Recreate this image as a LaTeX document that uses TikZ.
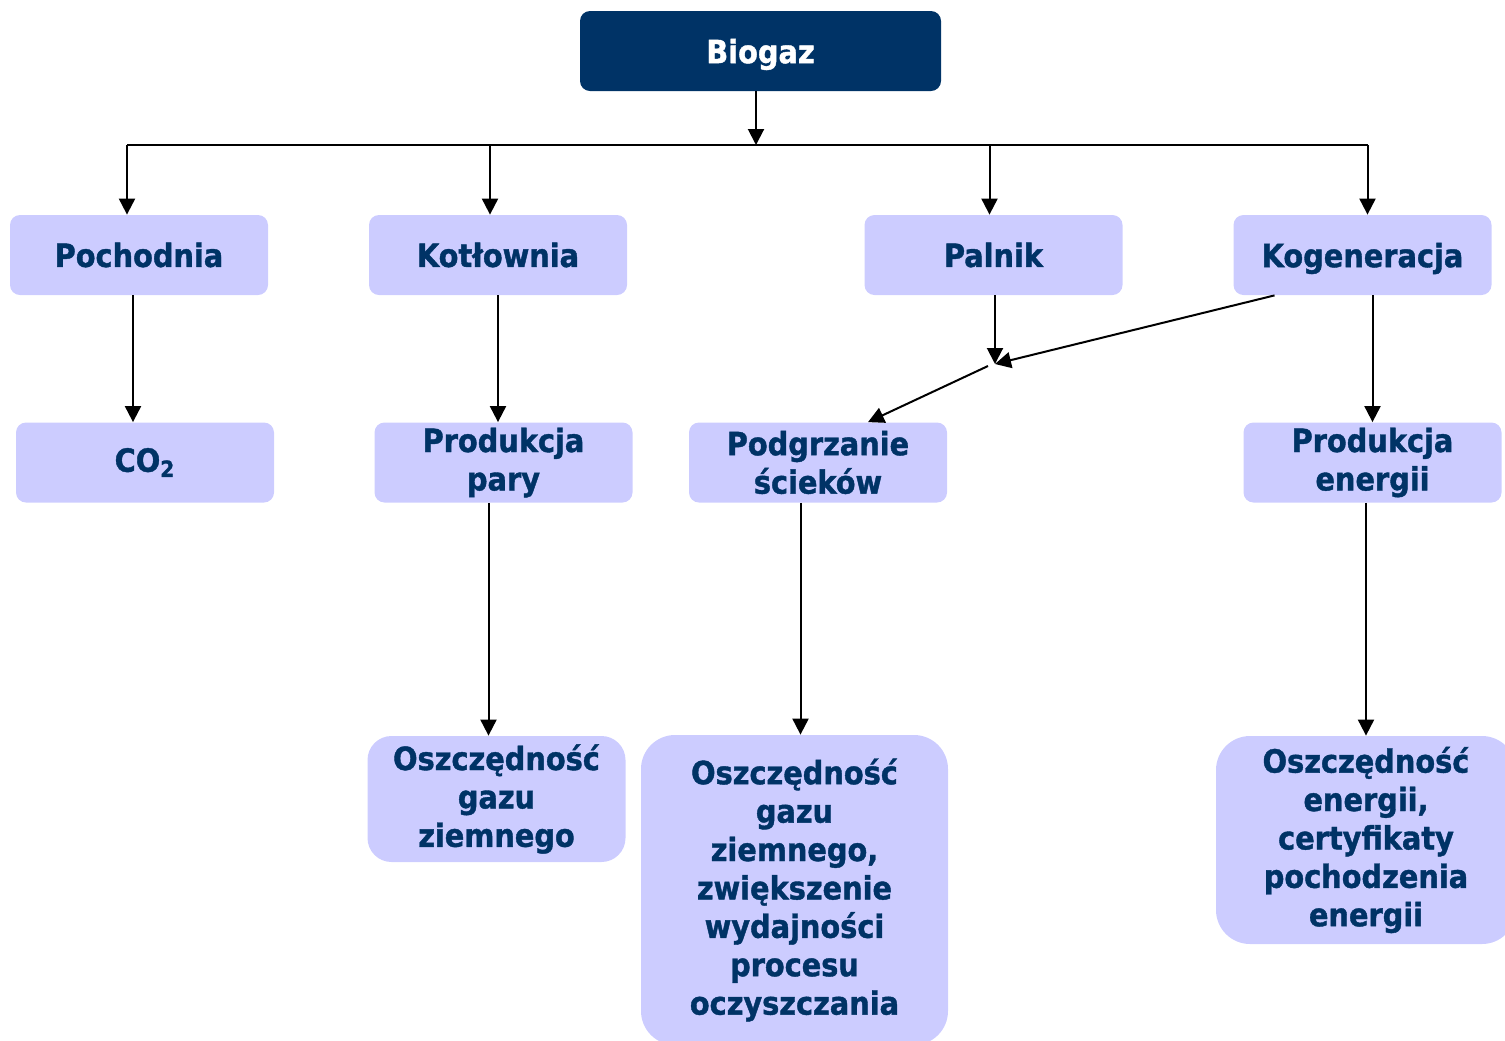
\documentclass[tikz,border=0pt]{standalone}
\usepackage{fontspec}
\setmainfont{DejaVu Sans Condensed}[BoldFeatures={FakeBold=1.2}]
\usetikzlibrary{arrows.meta}
\definecolor{navy}{RGB}{0,51,102}
\definecolor{lav}{RGB}{204,204,255}

\begin{document}
\begin{tikzpicture}[x=0.5pt,y=-0.5pt,
	box/.style={fill=lav,rounded corners=5pt,text=navy,inner sep=0pt,align=center,
		font=\bfseries\fontsize{16}{19.2}\selectfont,minimum width=129pt,minimum height=40pt},
	bigbox/.style={box,rounded corners=17pt},
	arr/.style={line width=1pt,-{Triangle[length=8pt,width=8pt]}}]
	\useasboundingbox (0,0) rectangle (1505,1040);
	\node[box,fill=navy,text=white,minimum width=180.5pt,text depth=0pt] (biogaz) at (760.5,51) {Biogaz};
	\node[box] (pocho) at (139,255) {Pochodnia};
	\node[box] (kotl) at (498,255) {Kotłownia};
	\node[box] (palnik) at (993.5,255) {Palnik};
	\node[box,text depth=0pt] (kogen) at (1362.5,255) {Kogeneracja};
	\node[box] (co2) at (145,462.5) {CO\textsubscript{2}};
	\node[box] (para) at (503.5,462.5) {Produkcja\\pary};
	\node[box] (podg) at (818,462.5) {Podgrzanie\\ścieków};
	\node[box] (energ) at (1372.5,462.5) {Produkcja\\energii};
	\node[bigbox,rounded corners=12pt,minimum height=63pt] (oszc1) at (496.5,799) {Oszczędność\\gazu\\ziemnego};
	\node[bigbox,minimum width=153.5pt,minimum height=155pt] (oszc2) at (794.5,890) {Oszczędność\\gazu\\ziemnego,\\zwiększenie\\wydajności\\procesu\\oczyszczania};
	\node[bigbox,minimum width=150pt,minimum height=104pt] (oszc3) at (1366,840) {Oszczędność\\energii,\\certyfikaty\\pochodzenia\\energii};
	% rozdzial biogazu
	\coordinate (bus) at (756,145);
	\draw[arr] (biogaz.south -| bus) -- (bus);
	\draw[line width=1pt] ([xshift=-6pt]bus -| pocho) -- ([xshift=2.5pt]bus -| kogen);
	\draw[arr] ([xshift=-6pt]bus -| pocho) -- ([xshift=-6pt]pocho.north);
	\draw[arr] ([xshift=-4pt]bus -| kotl) -- ([xshift=-4pt]kotl.north);
	\draw[arr] ([xshift=-2pt]bus -| palnik) -- ([xshift=-2pt]palnik.north);
	\draw[arr] ([xshift=2.5pt]bus -| kogen) -- ([xshift=2.5pt]kogen.north);
	\draw[arr] ([xshift=-3pt]pocho.south) -- ([xshift=-3pt]pocho.south |- co2.north);
	\draw[arr] (kotl.south) -- (kotl.south |- para.north);
	\draw[arr] (energ.north |- kogen.south) -- (energ.north);
	% palnik + kogeneracja
	\coordinate (mid) at (995,364);
	\draw[arr] (palnik.south -| mid) -- (mid);
	\draw[arr] ([xshift=-44pt]kogen.south) -- (mid);
	\draw[arr] ([xshift=-3.5pt,yshift=-1pt]mid) -- ([xshift=25pt]podg.north);
	% efekty
	\draw[arr] ([xshift=-4pt]oszc1.north |- para.south) -- ([xshift=-4pt]oszc1.north);
	\draw[arr] ([xshift=3pt]oszc2.north |- podg.south) -- ([xshift=3pt]oszc2.north);
	\draw[arr] (energ.south -| oszc3) -- (oszc3.north);
\end{tikzpicture}
\end{document}
